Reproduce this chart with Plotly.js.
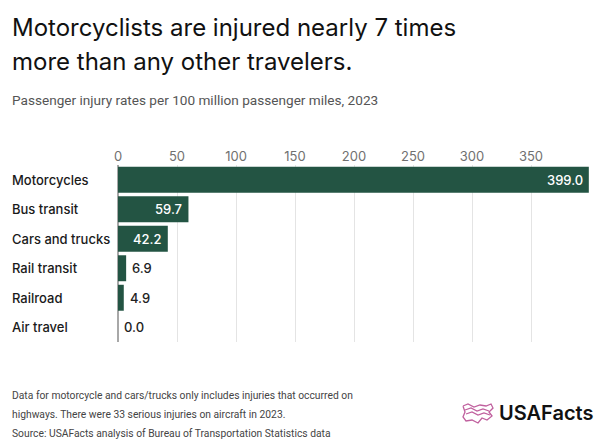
<!DOCTYPE html>
<html>
<head>
<meta charset="utf-8">
<script src="https://cdn.plot.ly/plotly-3.0.1.min.js"></script>
<style>
  html, body { margin: 0; padding: 0; background: #fff; }
  #chart { width: 600px; height: 448px; }
</style>
</head>
<body>
<div id="chart"></div>
<script>
// Passenger injury rates per 100 million passenger miles, 2023
const modes = ["Motorcycles", "Bus transit", "Cars and trucks", "Rail transit", "Railroad", "Air travel"];
const rates = [399.0, 59.7, 42.2, 6.9, 4.9, 0.0];
const xTicks = [0, 50, 100, 150, 200, 250, 300, 350];

const W = 600, H = 448;
const M = { l: 118, r: 10, t: 165, b: 106 };
const plotW = W - M.l - M.r, plotH = H - M.t - M.b;
// pixel -> paper helpers for the free-floating text and logo
const px = x => (x - M.l) / plotW;
const py = y => (H - M.b - y) / plotH;

const FONT = "Inter, 'Open Sans', sans-serif";
const FONT2 = "Roboto, 'Liberation Sans', sans-serif";
const GREEN = "#235443";
const INSIDE_MIN = 20; // bars at least this long carry their value inside

const trace = {
  type: "bar",
  orientation: "h",
  y: modes,
  x: rates,
  marker: { color: GREEN, line: { width: 0 } },
  hoverinfo: "skip"
};

// category labels, left-aligned at the page margin
const labelAnns = modes.map(m => ({
  xref: "paper", yref: "y", x: px(10), y: m,
  xanchor: "left", yanchor: "middle", showarrow: false,
  text: m, font: { family: FONT, size: 13, weight: 500, color: "#1a1a1a" }
}));

// value labels: white inside long bars, dark just past short ones
const valueAnns = rates.map((v, i) => {
  const inside = v >= INSIDE_MIN;
  return {
    xref: "x", yref: "y", x: v, y: modes[i], showarrow: false,
    xanchor: inside ? "right" : "left", xshift: inside ? -4 : 4, yanchor: "middle",
    text: v.toFixed(1),
    font: { family: FONT, size: 13, weight: 500, color: inside ? "#ffffff" : "#222222" }
  };
});

const noteFont = { family: FONT2, size: 10.3, color: "#444444" };
const textAnns = [
  { x: px(10), y: py(27), text: "Motorcyclists are injured nearly 7 times",
    font: { family: FONT, size: 24, color: "#111111" } },
  { x: px(10), y: py(61), text: "more than any other travelers.",
    font: { family: FONT, size: 24, color: "#111111" } },
  { x: px(10), y: py(100), text: "Passenger injury rates per 100 million passenger miles, 2023",
    font: { family: FONT2, size: 13.6, color: "#555555" } },
  { x: px(10), y: py(395), text: "Data for motorcycle and cars/trucks only includes injuries that occurred on", font: noteFont },
  { x: px(10), y: py(414), text: "highways. There were 33 serious injuries on aircraft in 2023.", font: noteFont },
  { x: px(10), y: py(433), text: "Source: USAFacts analysis of Bureau of Transportation Statistics data", font: noteFont },
  { x: px(595), y: py(413), xanchor: "right", text: "USAFacts",
    font: { family: FONT, size: 20, weight: 600, color: "#111111" } }
].map(a => Object.assign({ xref: "paper", yref: "paper", xanchor: "left", yanchor: "middle", showarrow: false }, a));

// small flag-like logo mark, built from pixel points
function pathFrom(points) {
  return points.map((p, i) => (i ? "L" : "M") + px(p[0]).toFixed(4) + "," + py(p[1]).toFixed(4)).join(" ");
}
const PINK = "#c0609e";
const logoShapes = [
  [[463, 406], [468, 404], [474, 407], [480, 405], [486, 406], [491, 404], [493, 408], [489, 412], [492, 416], [487, 420], [482, 418], [478, 423], [472, 420], [466, 421], [463, 417], [465, 412], [463, 406]],
  [[465, 410], [471, 408], [477, 411], [483, 409], [489, 411]],
  [[466, 414], [472, 412], [478, 415], [484, 413], [490, 415]]
].map(pts => ({
  type: "path", xref: "paper", yref: "paper", path: pathFrom(pts),
  line: { color: PINK, width: 1.3 }
}));

const layout = {
  width: W, height: H,
  margin: M,
  paper_bgcolor: "#ffffff", plot_bgcolor: "#ffffff",
  showlegend: false,
  bargap: 0.12,
  xaxis: {
    side: "top",
    range: [0, 400],
    tickvals: xTicks,
    ticktext: xTicks.map(String),
    tickfont: { family: FONT, size: 13, color: "#707070" },
    showgrid: true, gridcolor: "#e4e4e4", gridwidth: 1,
    zeroline: true, zerolinecolor: "#a8a8a8", zerolinewidth: 1.5,
    showline: false, ticks: "", fixedrange: true
  },
  yaxis: {
    autorange: "reversed",
    showticklabels: false,
    showgrid: false, zeroline: false, showline: false, ticks: "",
    fixedrange: true
  },
  annotations: labelAnns.concat(valueAnns, textAnns),
  shapes: logoShapes
};

Plotly.newPlot("chart", [trace], layout, { staticPlot: true, displayModeBar: false });
</script>
</body>
</html>
